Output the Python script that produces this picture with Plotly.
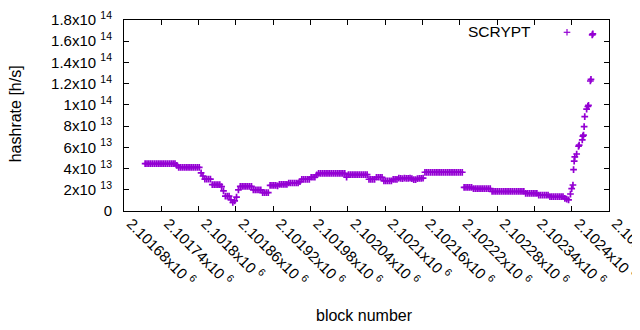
import plotly.graph_objects as go

# block numbers (x) and hashrate in units of 1e13 h/s (y)
block_numbers = [
    2101714, 2101717, 2101720, 2101723, 2101726, 2101729, 2101732, 2101735, 2101738, 2101741, 2101744, 2101747,
    2101750, 2101753, 2101756, 2101759, 2101762, 2101765, 2101768, 2101771, 2101774, 2101777, 2101780, 2101783,
    2101786, 2101789, 2101792, 2101795, 2101798, 2101801, 2101804, 2101807, 2101810, 2101813, 2101816, 2101819,
    2101822, 2101825, 2101828, 2101831, 2101834, 2101837, 2101840, 2101843, 2101846, 2101849, 2101852, 2101855,
    2101858, 2101861, 2101864, 2101867, 2101870, 2101873, 2101876, 2101879, 2101882, 2101885, 2101888, 2101891,
    2101894, 2101897, 2101900, 2101903, 2101906, 2101909, 2101912, 2101915, 2101918, 2101921, 2101924, 2101927,
    2101930, 2101933, 2101936, 2101939, 2101942, 2101945, 2101948, 2101951, 2101954, 2101957, 2101960, 2101963,
    2101966, 2101969, 2101972, 2101975, 2101978, 2101981, 2101984, 2101987, 2101990, 2101993, 2101996, 2101999,
    2102002, 2102005, 2102008, 2102011, 2102014, 2102017, 2102020, 2102023, 2102026, 2102029, 2102032, 2102035,
    2102038, 2102041, 2102044, 2102047, 2102050, 2102053, 2102056, 2102059, 2102062, 2102065, 2102068, 2102071,
    2102074, 2102077, 2102080, 2102083, 2102086, 2102089, 2102092, 2102095, 2102098, 2102101, 2102104, 2102107,
    2102110, 2102113, 2102116, 2102119, 2102122, 2102125, 2102128, 2102131, 2102134, 2102137, 2102140, 2102143,
    2102146, 2102149, 2102152, 2102155, 2102158, 2102161, 2102164, 2102167, 2102170, 2102173, 2102176, 2102179,
    2102182, 2102185, 2102188, 2102191, 2102194, 2102197, 2102200, 2102203, 2102206, 2102209, 2102212, 2102215,
    2102218, 2102221, 2102224, 2102227, 2102230, 2102233, 2102236, 2102239, 2102242, 2102245, 2102248, 2102251,
    2102254, 2102257, 2102260, 2102263, 2102266, 2102269, 2102272, 2102275, 2102278, 2102281, 2102284, 2102287,
    2102290, 2102293, 2102296, 2102299, 2102302, 2102305, 2102308, 2102311, 2102314, 2102317, 2102320, 2102323,
    2102326, 2102329, 2102332, 2102335, 2102338, 2102341, 2102344, 2102347, 2102350, 2102353, 2102356, 2102359,
    2102362, 2102365, 2102368, 2102371, 2102374, 2102377, 2102380, 2102383, 2102386, 2102389, 2102392, 2102395,
    2102398, 2102400, 2102402, 2102403, 2102404, 2102405, 2102408, 2102411, 2102412, 2102417, 2102418, 2102419,
    2102420, 2102421, 2102424, 2102426, 2102427, 2102430, 2102431, 2102433, 2102434,
]

hashrate_1e13 = [
    4.46, 4.46, 4.46, 4.46, 4.46, 4.46, 4.46, 4.46, 4.46, 4.46, 4.46, 4.46,
    4.46, 4.46, 4.46, 4.46, 4.46, 4.3, 4.12, 4.12, 4.12, 4.12, 4.12, 4.12,
    4.12, 4.12, 4.12, 4.12, 4.12, 4.12, 3.6, 3.3, 3.0, 3.0, 3.0, 3.0,
    2.48, 2.48, 2.48, 2.48, 2.48, 2.3, 1.9, 1.41, 1.41, 1.41, 1.05, 0.8,
    0.95, 1.3, 2.0, 2.33, 2.33, 2.33, 2.33, 2.33, 2.33, 2.33, 2.0, 2.0,
    2.0, 2.0, 2.0, 1.74, 1.74, 1.74, 1.74, 2.42, 2.42, 2.42, 2.42, 2.36,
    2.51, 2.51, 2.51, 2.51, 2.51, 2.64, 2.64, 2.64, 2.64, 2.64, 2.64, 2.76,
    2.99, 2.99, 2.99, 2.99, 2.99, 3.18, 3.18, 3.18, 3.4, 3.55, 3.55, 3.55,
    3.55, 3.55, 3.55, 3.55, 3.55, 3.55, 3.55, 3.55, 3.55, 3.55, 3.55, 3.55,
    3.2, 3.42, 3.42, 3.42, 3.42, 3.42, 3.42, 3.42, 3.42, 3.42, 3.42, 3.42,
    2.99, 2.99, 2.99, 2.99, 3.18, 3.18, 3.18, 3.18, 2.83, 2.83, 2.83, 2.83,
    2.83, 2.99, 2.99, 2.99, 3.1, 3.08, 3.05, 3.1, 3.08, 3.08, 3.1, 3.05,
    2.95, 2.95, 3.05, 3.08, 3.08, 3.1, 3.65, 3.65, 3.65, 3.65, 3.65, 3.65,
    3.65, 3.65, 3.65, 3.65, 3.65, 3.65, 3.65, 3.65, 3.65, 3.65, 3.65, 3.65,
    3.65, 3.65, 3.65, 2.23, 2.23, 2.23, 2.23, 2.23, 2.1, 2.1, 2.1, 2.1,
    2.1, 2.1, 2.1, 2.1, 2.1, 2.1, 1.84, 1.84, 1.84, 1.84, 1.84, 1.84,
    1.84, 1.84, 1.84, 1.84, 1.84, 1.84, 1.84, 1.84, 1.84, 1.84, 1.84, 1.84,
    1.67, 1.67, 1.67, 1.67, 1.67, 1.67, 1.67, 1.5, 1.5, 1.5, 1.5, 1.5,
    1.5, 1.35, 1.35, 1.35, 1.35, 1.35, 1.35, 1.35, 1.35, 1.2, 1.12, 1.05,
    1.6, 2.1, 2.45, 3.9, 4.7, 5.1, 5.37, 6.1, 6.2, 6.7, 7.05, 7.15,
    7.95, 8.9, 9.6, 9.85, 9.95, 12.25, 12.4, 16.6, 16.7,
]

x_tick_vals = [2101680, 2101740, 2101800, 2101860, 2101920, 2101980, 2102040,
               2102100, 2102160, 2102220, 2102280, 2102340, 2102400, 2102460]
x_tick_text = ["2.10168x10 <sup>6</sup>", "2.10174x10 <sup>6</sup>", "2.1018x10 <sup>6</sup>",
               "2.10186x10 <sup>6</sup>", "2.10192x10 <sup>6</sup>", "2.10198x10 <sup>6</sup>",
               "2.10204x10 <sup>6</sup>", "2.1021x10 <sup>6</sup>", "2.10216x10 <sup>6</sup>",
               "2.10222x10 <sup>6</sup>", "2.10228x10 <sup>6</sup>", "2.10234x10 <sup>6</sup>",
               "2.1024x10 <sup>6</sup>", "2.10246x10 <sup>6</sup>"]
y_tick_vals = [0, 2, 4, 6, 8, 10, 12, 14, 16, 18]
y_tick_text = ["0", "2x10 <sup>13</sup>", "4x10 <sup>13</sup>", "6x10 <sup>13</sup>",
               "8x10 <sup>13</sup>", "1x10 <sup>14</sup>", "1.2x10 <sup>14</sup>",
               "1.4x10 <sup>14</sup>", "1.6x10 <sup>14</sup>", "1.8x10 <sup>14</sup>"]

PURPLE = "#9400D3"
FONT = "Liberation Sans, Arial, sans-serif"

fig = go.Figure()
fig.add_trace(go.Scatter(
    x=block_numbers, y=hashrate_1e13, mode="markers", name="SCRYPT",
    marker=dict(symbol="cross-thin", size=4.8, color=PURPLE,
                line=dict(color=PURPLE, width=1.7)),
    showlegend=False,
))

axis_common = dict(showline=True, linecolor="black", linewidth=1, mirror="ticks",
                   ticks="inside", ticklen=5, tickcolor="black", tickwidth=1,
                   showgrid=False, zeroline=False, ticklabeloverflow="allow",
                   tickfont=dict(family=FONT, size=15, color="black"))

# the page body has an 8px default margin, so the figure is 8px smaller
fig.update_layout(
    width=632, height=322,
    margin=dict(l=116, r=31, t=12, b=119, autoexpand=False),
    paper_bgcolor="white", plot_bgcolor="white",
    font=dict(family=FONT, size=15, color="black"),
    xaxis=dict(range=[2101680, 2102460], tickmode="array", tickvals=x_tick_vals,
               ticktext=x_tick_text, tickangle=45, ticklabelstandoff=-3,
               ticklabelshift=7, **axis_common),
    yaxis=dict(range=[0, 18], tickmode="array", tickvals=y_tick_vals,
               ticktext=y_tick_text, ticklabelstandoff=8, **axis_common),
    annotations=[
        dict(text="hashrate [h/s]", xref="paper", yref="paper", x=-0.222, y=0.508,
             textangle=-90, showarrow=False, xanchor="center", yanchor="middle",
             font=dict(family=FONT, size=16, color="black")),
        dict(text="block number", xref="paper", yref="paper", x=0.495, y=-0.545,
             showarrow=False, xanchor="center", yanchor="middle",
             font=dict(family=FONT, size=16, color="black")),
        dict(text="SCRYPT", xref="paper", yref="paper", x=0.8433, y=0.9387,
             showarrow=False, xanchor="right", yanchor="middle",
             font=dict(family=FONT, size=15.5, color="black")),
    ],
    shapes=[
        dict(type="line", xref="paper", yref="paper", xsizemode="pixel", ysizemode="pixel",
             xanchor=0.9134, yanchor=0.9356, x0=-3.3, x1=3.3, y0=0, y1=0,
             line=dict(color=PURPLE, width=1.2)),
        dict(type="line", xref="paper", yref="paper", xsizemode="pixel", ysizemode="pixel",
             xanchor=0.9134, yanchor=0.9356, x0=0, x1=0, y0=-3.2, y1=3.2,
             line=dict(color=PURPLE, width=1.2)),
    ],
)

fig.write_html("out.html")
